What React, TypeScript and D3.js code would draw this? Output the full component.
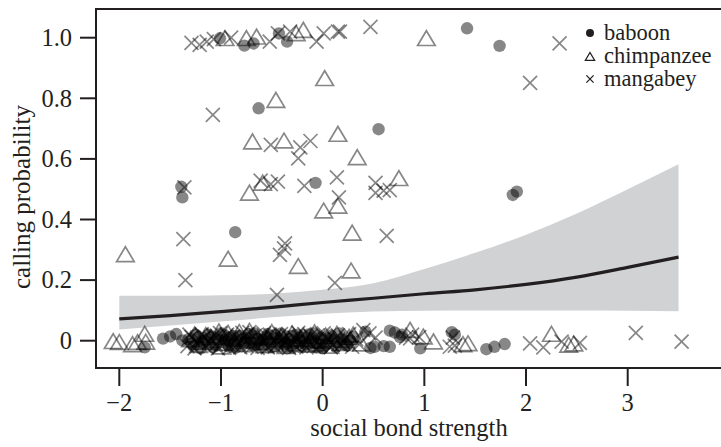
import React from "react";
import * as d3 from "d3";

// ---- data ----
const xTicks = [-2, -1, 0, 1, 2, 3];
const yTicks = [0, 0.2, 0.4, 0.6, 0.8, 1.0];
const yTickLabels = ["0", "0.2", "0.4", "0.6", "0.8", "1.0"];

// fitted curve and confidence band
const fitX = [-2, -1.5, -1, -0.5, 0, 0.5, 1, 1.5, 2, 2.5, 3, 3.5];
const fitY = [0.072, 0.083, 0.096, 0.11, 0.126, 0.14, 0.155, 0.168, 0.186, 0.21, 0.242, 0.276];
const fitLower = [0.037, 0.05, 0.063, 0.077, 0.089, 0.096, 0.099, 0.1, 0.1, 0.1, 0.099, 0.097];
const fitUpper = [0.148, 0.148, 0.15, 0.155, 0.168, 0.19, 0.237, 0.29, 0.35, 0.42, 0.5, 0.582];

// baboon (filled circles)
const baboon: [number, number][] = [
  // top row
  [-1.01, 0.998], [-0.77, 0.974], [-0.68, 0.981], [-0.43, 1.014], [-0.35, 0.987], [1.42, 1.031], [1.74, 0.973],
  // middle
  [-0.63, 0.767], [0.55, 0.698], [-1.39, 0.508], [-1.38, 0.473], [-0.07, 0.521], [-0.86, 0.358], [1.87, 0.481], [1.91, 0.492],
  // bottom
  [-1.75, -0.022], [-1.57, 0.007], [-1.5, 0.014], [-1.44, 0.022], [-1.38, 0.001],
  [-1.32, 0.005], [-1.27, -0.018], [-1.22, 0.012], [-1.18, -0.008], [-1.12, 0.02], [-1.08, -0.022], [-1.03, 0.004],
  [-0.98, 0.018], [-0.94, -0.012], [-0.9, 0.008], [-0.86, -0.024], [-0.81, 0.015], [-0.77, -0.004], [-0.73, 0.022],
  [-0.69, -0.016], [-0.64, 0.006], [-0.6, -0.021], [-0.56, 0.013], [-0.52, -0.006], [-0.47, 0.019], [-0.43, -0.014],
  [-0.39, 0.003], [-0.35, -0.025], [-0.31, 0.016], [-0.27, -0.009], [-0.23, 0.01], [-0.19, -0.019], [-0.14, 0.021],
  [-0.1, -0.003], [-0.06, -0.023], [-0.02, 0.011], [0.03, -0.012], [0.08, 0.017], [0.13, -0.02], [0.19, 0.004],
  [0.24, -0.016], [0.3, 0.012],
  [-1.29, -0.01], [-1.25, 0.02], [-1.2, -0.025], [-1.16, 0.0], [-1.1, 0.012], [-1.05, -0.015], [-1.0, 0.025],
  [-0.96, 0.002], [-0.92, -0.02], [-0.88, 0.016], [-0.84, 0.0], [-0.8, -0.018], [-0.75, 0.01], [-0.71, -0.006],
  [-0.67, 0.024], [-0.62, -0.012], [-0.58, 0.004], [-0.54, 0.022], [-0.5, -0.02], [-0.45, 0.008], [-0.41, 0.024],
  [-0.37, -0.01], [-0.33, 0.006], [-0.29, -0.022], [-0.25, 0.02], [-0.21, 0.0], [-0.17, -0.012], [-0.12, 0.01],
  [-0.08, 0.024], [-0.04, -0.01], [0.0, -0.025], [0.05, 0.008], [0.11, 0.002], [0.16, 0.024], [0.21, -0.012], [0.27, 0.0],
  [0.42, 0.03], [0.47, -0.024], [0.51, -0.02], [0.6, -0.018], [0.66, -0.02], [0.66, 0.033], [0.71, 0.027],
  [0.76, 0.012], [0.78, 0.02], [0.96, -0.025], [1.27, 0.028], [1.3, 0.02], [1.61, -0.028], [1.69, -0.02], [1.79, -0.011],
];

// chimpanzee (open triangles)
const chimpanzee: [number, number][] = [
  // top row
  [-0.96, 0.998], [-0.75, 0.998], [-0.65, 1.003], [-0.26, 1.014], [-0.19, 1.025], [1.02, 0.998],
  // middle
  [0.02, 0.866], [-0.46, 0.794], [-0.69, 0.657], [-0.38, 0.66], [0.15, 0.682], [0.34, 0.605], [0.75, 0.536],
  [-0.72, 0.488], [-0.59, 0.521], [0.01, 0.429], [0.15, 0.445], [0.29, 0.356], [-1.94, 0.285], [-0.93, 0.27],
  [-0.24, 0.246], [0.28, 0.231],
  // bottom
  [-2.06, -0.002], [-2.0, -0.005], [-1.87, -0.012], [-1.82, -0.005], [-1.75, 0.022], [-1.74, -0.004],
  [-1.3, 0.004], [-1.22, -0.015], [-1.15, 0.018], [-1.06, 0.002], [-0.99, -0.02], [-0.93, 0.025], [-0.85, 0.006],
  [-0.78, -0.012], [-0.72, 0.032], [-0.64, 0.01], [-0.57, -0.016], [-0.5, 0.028], [-0.43, 0.004], [-0.36, -0.018],
  [-0.3, 0.024], [-0.22, 0.006], [-0.15, -0.014], [-0.08, 0.027], [-0.01, 0.0], [0.07, -0.017], [0.14, 0.022],
  [0.22, 0.002], [0.3, 0.02], [0.38, -0.01],
  [-1.26, 0.02], [-1.18, -0.004], [-1.1, 0.012], [-1.02, 0.03], [-0.96, -0.008], [-0.89, 0.012], [-0.82, 0.028],
  [-0.75, 0.0], [-0.68, 0.016], [-0.61, -0.006], [-0.54, 0.012], [-0.47, -0.012], [-0.4, 0.018], [-0.33, 0.004],
  [-0.26, -0.01], [-0.19, 0.016], [-0.12, 0.002], [-0.05, -0.01], [0.03, 0.016], [0.1, 0.004], [0.18, -0.008], [0.26, 0.012],
  [0.86, 0.035], [0.99, 0.013], [1.09, -0.003], [1.38, -0.012], [1.43, -0.009], [2.25, 0.022], [2.42, -0.014], [2.47, -0.01],
];

// mangabey (crosses)
const mangabey: [number, number][] = [
  // top row
  [-1.29, 0.983], [-1.21, 0.976], [-1.14, 0.987], [-1.07, 0.995], [-0.9, 1.0], [-0.52, 0.987], [-0.44, 1.014],
  [-0.32, 1.02], [-0.06, 0.987], [0.01, 1.014], [0.15, 1.02], [0.17, 1.02], [0.47, 1.036], [2.33, 0.981],
  // middle
  [2.04, 0.851], [-1.08, 0.745], [-0.51, 0.646], [-0.22, 0.638], [-0.12, 0.659], [-0.24, 0.602], [-1.36, 0.506],
  [-0.61, 0.528], [-0.51, 0.517], [-0.44, 0.525], [-0.18, 0.511], [0.14, 0.539], [0.16, 0.473], [0.52, 0.521],
  [0.52, 0.488], [0.6, 0.495], [0.66, 0.497], [-1.37, 0.335], [-0.37, 0.321], [-0.38, 0.305], [-0.42, 0.283],
  [0.63, 0.346], [-1.35, 0.2], [0.12, 0.191], [-0.45, 0.151],
  // bottom
  [-1.33, -0.018], [-1.29, 0.012], [-1.24, -0.005], [-1.19, 0.022], [-1.14, -0.022], [-1.1, 0.006], [-1.05, -0.012],
  [-1.01, 0.025], [-0.96, -0.003], [-0.92, -0.024], [-0.88, 0.014], [-0.83, -0.01], [-0.79, 0.026], [-0.75, 0.0],
  [-0.7, -0.02], [-0.66, 0.018], [-0.62, -0.008], [-0.58, 0.024], [-0.54, -0.022], [-0.49, 0.006], [-0.45, -0.012],
  [-0.41, 0.022], [-0.37, -0.002], [-0.33, -0.024], [-0.28, 0.01], [-0.24, 0.026], [-0.2, -0.006], [-0.16, -0.022],
  [-0.12, 0.015], [-0.07, 0.002], [-0.03, -0.016], [0.01, 0.024], [0.05, 0.004], [0.1, -0.014], [0.15, 0.018],
  [0.2, -0.004], [0.26, 0.022], [0.33, 0.005], [0.36, -0.012],
  [-1.31, 0.02], [-1.26, -0.025], [-1.21, 0.002], [-1.16, 0.012], [-1.12, -0.008], [-1.07, 0.018], [-1.03, -0.025],
  [-0.99, 0.008], [-0.94, 0.02], [-0.9, -0.01], [-0.86, 0.004], [-0.81, -0.022], [-0.77, 0.012], [-0.72, 0.028],
  [-0.68, -0.004], [-0.64, -0.024], [-0.6, 0.01], [-0.56, 0.002], [-0.52, 0.02], [-0.47, -0.02], [-0.43, 0.012],
  [-0.39, -0.014], [-0.35, 0.016], [-0.3, -0.008], [-0.26, -0.02], [-0.22, 0.012], [-0.18, 0.022], [-0.14, -0.004],
  [-0.09, -0.018], [-0.05, 0.018], [0.0, -0.006], [0.03, 0.012], [0.08, -0.022], [0.12, 0.006], [0.18, -0.014],
  [0.23, 0.01], [0.29, -0.02],
  [0.4, 0.035], [0.46, 0.024], [0.52, 0.01], [0.82, 0.01], [0.86, 0.008], [0.88, 0.02], [0.95, 0.012],
  [1.25, -0.02], [1.28, 0.01], [1.3, -0.016], [2.04, -0.009], [2.17, -0.022], [2.35, -0.003], [2.53, -0.007],
  [3.08, 0.026], [3.53, -0.003],
];

const legendItems = ["baboon", "chimpanzee", "mangabey"];

// ---- layout ----
const W = 721;
const H = 447;
const frameLeft = 96;
const frameTop = 9;
const frameBottom = 368;
const FONT = "'Liberation Serif', 'Times New Roman', Times, serif";
const TEXT = "#231f20";
const FS = 24.5;

const x = d3.scaleLinear().domain([-2, 3]).range([119.3, 627.7]);
const y = d3.scaleLinear().domain([0, 1]).range([340.7, 37.7]);

const tri = (cx: number, cy: number, s: number) =>
  `M${cx},${cy - s * 0.95}L${cx + s * 1.1},${cy + s * 0.9}L${cx - s * 1.1},${cy + s * 0.9}Z`;
const cross = (cx: number, cy: number, s: number) =>
  `M${cx - s},${cy - s}L${cx + s},${cy + s}M${cx - s},${cy + s}L${cx + s},${cy - s}`;

export default function App() {
  const fitData = fitX.map((v, i) => ({ x: v, y: fitY[i], lo: fitLower[i], hi: fitUpper[i] }));
  const area = d3
    .area<any>()
    .x((d) => x(d.x))
    .y0((d) => y(d.lo))
    .y1((d) => y(d.hi))
    .curve(d3.curveMonotoneX);
  const line = d3
    .line<any>()
    .x((d) => x(d.x))
    .y((d) => y(d.y))
    .curve(d3.curveMonotoneX);

  return (
    <svg
      width={W}
      height={H}
      style={{ position: "absolute", left: 0, top: 0, background: "#fff" }}
      fontFamily={FONT}
    >
      <rect x={0} y={0} width={W} height={H} fill="#fff" />
      {/* band + fit */}
      <path d={area(fitData) || ""} fill="#d1d2d4" />
      <path d={line(fitData) || ""} fill="none" stroke={TEXT} strokeWidth={3.2} />

      {/* points */}
      <g>
        {baboon.map((p, i) => (
          <circle key={"b" + i} cx={x(p[0])} cy={y(p[1])} r={6.2} fill="#000" fillOpacity={0.47} />
        ))}
        {chimpanzee.map((p, i) => (
          <path
            key={"c" + i}
            d={tri(x(p[0]), y(p[1]), 8)}
            fill="none"
            stroke="#000"
            strokeOpacity={0.47}
            strokeWidth={1.7}
          />
        ))}
        {mangabey.map((p, i) => (
          <path
            key={"m" + i}
            d={cross(x(p[0]), y(p[1]), 7)}
            fill="none"
            stroke="#000"
            strokeOpacity={0.47}
            strokeWidth={1.7}
          />
        ))}
      </g>

      {/* frame */}
      <path
        d={`M${W + 2},${frameTop}H${frameLeft}V${frameBottom}H${W + 2}`}
        fill="none"
        stroke={TEXT}
        strokeWidth={2}
      />

      {/* y axis */}
      {yTicks.map((t, i) => (
        <g key={"yt" + i}>
          <line x1={80} x2={frameLeft} y1={y(t)} y2={y(t)} stroke={TEXT} strokeWidth={2} />
          <text x={72} y={y(t)} dy="0.34em" textAnchor="end" fontSize={FS} fill={TEXT}>
            {yTickLabels[i]}
          </text>
        </g>
      ))}
      {/* x axis */}
      {xTicks.map((t, i) => (
        <g key={"xt" + i}>
          <line x1={x(t)} x2={x(t)} y1={frameBottom} y2={386} stroke={TEXT} strokeWidth={2} />
          <text x={x(t)} y={411} textAnchor="middle" fontSize={FS} fill={TEXT}>
            {t < 0 ? "\u2212" + Math.abs(t) : String(t)}
          </text>
        </g>
      ))}

      <text x={409} y={436} textAnchor="middle" fontSize={FS} fill={TEXT}>
        social bond strength
      </text>
      <text transform="translate(30,197) rotate(-90)" textAnchor="middle" fontSize={25} fill={TEXT}>
        calling probability
      </text>

      {/* legend */}
      <g>
        <circle cx={590} cy={33} r={4} fill={TEXT} />
        <path d={tri(590, 56.5, 4.2)} fill="none" stroke={TEXT} strokeWidth={1.3} />
        <path d={cross(590, 79, 3.6)} fill="none" stroke={TEXT} strokeWidth={1.3} />
        {legendItems.map((s, i) => (
          <text key={s} x={604} y={39.5 + i * 23} fontSize={22.5} fill={TEXT}>
            {s}
          </text>
        ))}
      </g>
    </svg>
  );
}
